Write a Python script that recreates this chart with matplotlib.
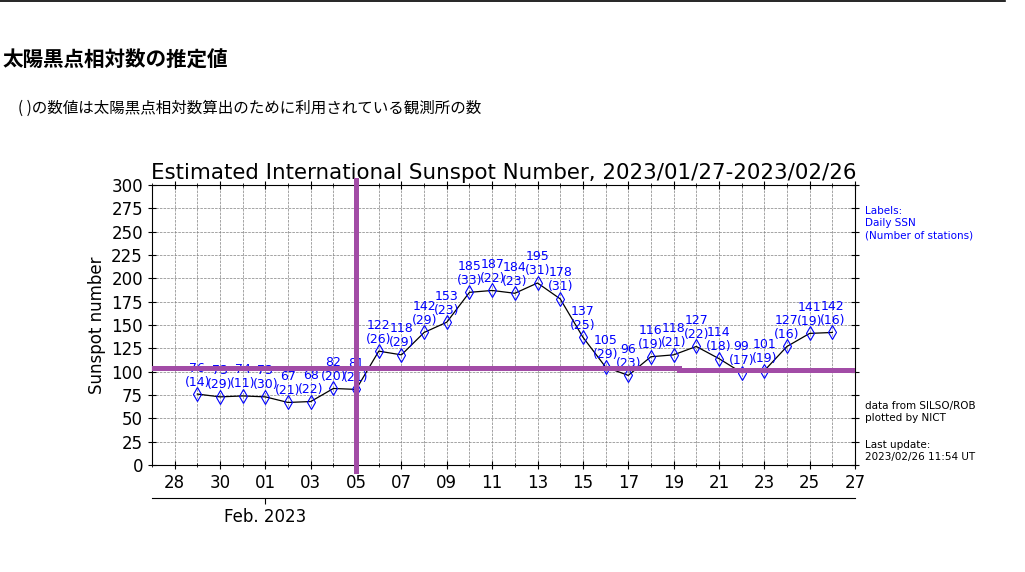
import numpy as np
import matplotlib
matplotlib.use('Agg')
import matplotlib.pyplot as plt
import matplotlib.dates as mdates
from matplotlib.lines import Line2D

# daily estimated sunspot numbers and number of contributing stations
days = ['2023-01-29', '2023-01-30', '2023-01-31', '2023-02-01', '2023-02-02', '2023-02-03',
        '2023-02-04', '2023-02-05', '2023-02-06', '2023-02-07', '2023-02-08', '2023-02-09',
        '2023-02-10', '2023-02-11', '2023-02-12', '2023-02-13', '2023-02-14', '2023-02-15',
        '2023-02-16', '2023-02-17', '2023-02-18', '2023-02-19', '2023-02-20', '2023-02-21',
        '2023-02-22', '2023-02-23', '2023-02-24', '2023-02-25', '2023-02-26']
ssn = [76, 73, 74, 73, 67, 68, 82, 81, 122, 118, 142, 153, 185, 187, 184, 195, 178, 137,
       105, 96, 116, 118, 127, 114, 99, 101, 127, 141, 142]
stations = [14, 29, 11, 30, 21, 22, 20, 21, 26, 29, 29, 23, 33, 22, 23, 31, 31, 25,
            29, 23, 19, 21, 22, 18, 17, 19, 16, 19, 16]

dates = np.array(days, dtype='datetime64[D]')
purple = '#a24ca6'

fig = plt.figure(figsize=(10.25, 5.72), dpi=100)

# page header (Japanese)
jp = ['Noto Sans CJK JP', 'DejaVu Sans']
fig.add_artist(Line2D([0, 1005 / 1025], [0.998, 0.998], color='black', lw=1.2))
fig.text(3 / 1025, 1 - 60 / 572, '太陽黒点相対数の推定値', family=jp, fontsize=14.8,
         fontweight='bold', va='center', ha='left')
fig.text(18 / 1025, 1 - 108 / 572, '( )の数値は太陽黒点相対数算出のために利用されている観測所の数',
         family=jp, fontsize=11.2, va='center', ha='left')

ax = fig.add_axes([152 / 1025, 1 - 465 / 572, 703 / 1025, 280 / 572])

ax.plot(dates, ssn, color='black', lw=0.9, zorder=3)
ax.plot(dates, ssn, linestyle='none', marker='d', markersize=7, markerfacecolor='none',
        markeredgecolor='blue', markeredgewidth=0.8, zorder=4)

for d, v, n in zip(dates, ssn, stations):
    ax.annotate('%d\n(%d)' % (v, n), (d, v), xytext=(0, 4), textcoords='offset points',
                ha='center', va='bottom', color='blue', fontsize=9, linespacing=1.1, zorder=5)

ax.set_xlim(np.datetime64('2023-01-27'), np.datetime64('2023-02-27'))
ax.set_ylim(0, 300)
ax.set_yticks(np.arange(0, 301, 25))
ax.set_xticks(np.arange(np.datetime64('2023-01-28'), np.datetime64('2023-02-28'), 2))
ax.xaxis.set_major_formatter(mdates.DateFormatter('%d'))
ax.xaxis.set_minor_locator(mdates.DayLocator())
ax.grid(True, which='both', linestyle='--', color='gray', lw=0.5)
ax.tick_params(which='both', direction='inout', top=True, right=True, labelsize=12)
ax.tick_params(which='major', length=6)
ax.tick_params(which='minor', length=3)

ax.set_title('Estimated International Sunspot Number, 2023/01/27-2023/02/26', fontsize=15.4, pad=4)
ax.set_ylabel('Sunspot number', fontsize=12)

# month axis below the day labels
sec = ax.secondary_xaxis(-0.118)
sec.set_xticks([np.datetime64('2023-02-01')])
sec.set_xticklabels(['Feb. 2023'])
sec.tick_params(direction='out', length=4, labelsize=12)

# purple overlay marks
ax.axvline(np.datetime64('2023-02-05'), ymin=-0.02, ymax=1.017, color=purple, lw=3.6,
           clip_on=False, zorder=6)
ax.axhline(104, xmin=0, xmax=0.749, color=purple, lw=3.6, zorder=6)
ax.axhline(102, xmin=0.749, xmax=1, color=purple, lw=3.6, zorder=6)

# side notes
fig.text(865 / 1025, 1 - 206 / 572, 'Labels:\nDaily SSN\n(Number of stations)', color='blue',
         fontsize=7.5, va='top', ha='left', linespacing=1.25)
fig.text(865 / 1025, 1 - 401 / 572, 'data from SILSO/ROB\nplotted by NICT', color='black',
         fontsize=7.5, va='top', ha='left', linespacing=1.25)
fig.text(865 / 1025, 1 - 440 / 572, 'Last update:\n2023/02/26 11:54 UT', color='black',
         fontsize=7.5, va='top', ha='left', linespacing=1.25)

fig.savefig('out.png', dpi=100)
